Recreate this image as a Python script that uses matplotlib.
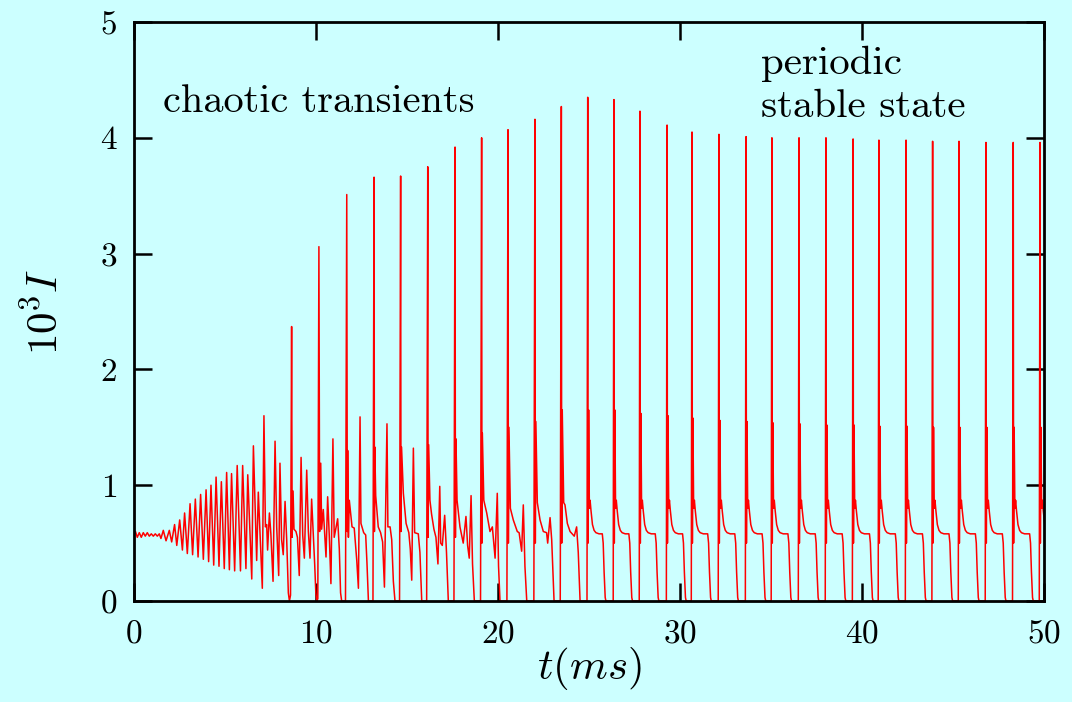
import matplotlib
matplotlib.use("Agg")
import matplotlib.pyplot as plt
import numpy as np

plt.rcParams['font.family'] = 'serif'
plt.rcParams['font.serif'] = ['cmr10']
plt.rcParams['mathtext.fontset'] = 'cm'
plt.rcParams['axes.formatter.use_mathtext'] = True

# chaotic transient part (time in ms, 10^3 I)
t_transient = [
    0.00, 0.08, 0.18, 0.29, 0.40, 0.51, 0.62, 0.73, 0.84, 0.95, 1.06, 1.17, 1.28, 1.39,
    1.48, 1.61, 1.76, 1.94, 2.07, 2.23, 2.35, 2.51, 2.66, 2.78, 2.93, 3.08, 3.22, 3.37,
    3.52, 3.66, 3.81, 3.96, 4.10, 4.23, 4.38, 4.51, 4.67, 4.80, 4.96, 5.09, 5.24, 5.36,
    5.53, 5.67, 5.85, 5.97, 6.15, 6.25, 6.47, 6.56, 6.74, 6.83, 7.05, 7.14, 7.22, 7.29,
    7.34, 7.44, 7.52, 7.64, 7.75, 7.84, 7.95, 8.02, 8.11, 8.20, 8.30, 8.39, 8.48, 8.54,
    8.60, 8.66, 8.69, 8.74, 8.79, 8.90, 8.98, 9.08, 9.18, 9.27, 9.36, 9.49, 9.58, 9.67,
    9.76, 9.93, 9.99, 10.04, 10.10, 10.16, 10.20, 10.26, 10.31, 10.40, 10.55, 10.64, 10.73,
    10.82, 10.93, 11.00, 11.19, 11.28, 11.35, 11.41, 11.62, 11.69, 11.72, 11.74, 11.78,
    11.83, 11.98, 12.10, 12.24, 12.33, 12.42, 12.47, 12.62, 12.73, 12.80, 12.88, 13.13,
    13.19, 13.21, 13.23, 13.28, 13.42, 13.55, 13.66, 13.76, 13.90, 13.95, 14.07, 14.16,
    14.25, 14.34, 14.59, 14.65, 14.67, 14.70, 14.80, 14.95, 15.10, 15.18, 15.26, 15.35,
    15.42, 15.62, 15.71, 15.81, 16.08, 16.14, 16.16, 16.19, 16.26, 16.35, 16.48, 16.59,
    16.70, 16.80, 16.85, 16.94, 17.07, 17.17, 17.27, 17.58, 17.64, 17.66, 17.69, 17.75,
    17.91, 18.09, 18.24, 18.33, 18.42, 18.52, 18.60, 18.70, 19.04, 19.10, 19.12, 19.14,
    19.22, 19.38, 19.56, 19.69, 19.84, 19.96, 20.03, 20.11, 20.49, 20.55, 20.57, 20.60,
    20.68, 20.84, 21.06, 21.16, 21.30, 21.39, 21.48, 21.58, 21.97, 22.03, 22.05, 22.08,
    22.16, 22.31, 22.49, 22.67, 22.73, 22.86, 22.95, 23.08, 23.42, 23.48, 23.50, 23.53,
    23.61, 23.68, 23.81, 23.96, 24.19, 24.32, 24.41, 24.51, 24.87,
]
i_transient = [
    0.57, 0.60, 0.55, 0.59, 0.55, 0.59, 0.56, 0.59, 0.56, 0.58, 0.56, 0.58, 0.56, 0.58,
    0.54, 0.61, 0.52, 0.61, 0.51, 0.66, 0.48, 0.70, 0.44, 0.76, 0.41, 0.84, 0.40, 0.88,
    0.38, 0.92, 0.36, 0.96, 0.34, 1.00, 0.31, 1.07, 0.30, 1.03, 0.28, 1.11, 0.27, 1.10,
    0.26, 1.17, 0.26, 1.17, 0.28, 1.09, 0.19, 1.34, 0.35, 0.94, 0.11, 1.60, 0.64, 0.66,
    0.44, 0.76, 0.58, 0.17, 1.38, 0.64, 0.22, 1.19, 0.53, 0.40, 0.86, 0.53, 0.07, 0.00,
    0.05, 2.37, 0.55, 0.95, 0.62, 0.60, 0.55, 0.22, 1.24, 0.57, 0.37, 1.13, 0.60, 0.37,
    0.88, 0.31, 0.07, 0.00, 0.02, 3.06, 0.60, 1.19, 0.62, 0.79, 0.38, 0.90, 0.56,
    0.15, 1.40, 0.55, 0.71, 0.45, 0.07, 0.00, 0.00, 3.51, 0.60, 1.30, 0.55,
    0.87, 0.64, 0.63, 0.35, 0.11, 1.59, 0.67, 0.59, 0.57, 0.33, 0.00, 0.00,
    3.66, 0.60, 1.33, 0.91, 0.64, 0.59, 0.51, 0.12, 1.53, 0.64, 0.64, 0.53,
    0.17, 0.00, 0.00, 3.67, 0.60, 1.33, 0.93, 0.67, 0.59, 0.45, 0.18, 1.32,
    0.59, 0.58, 0.42, 0.00, 0.00, 3.75, 0.55, 1.35, 0.87, 0.75, 0.62, 0.55,
    0.32, 0.99, 0.50, 0.48, 0.74, 0.42, 0.00, 0.00, 3.92, 0.55, 1.40, 0.87,
    0.64, 0.50, 0.73, 0.48, 0.37, 0.91, 0.32, 0.00, 0.00, 4.00, 0.50, 1.45,
    0.87, 0.76, 0.60, 0.64, 0.37, 0.93, 0.30, 0.00, 0.00, 4.07, 0.50, 1.50,
    0.80, 0.70, 0.60, 0.59, 0.43, 0.83, 0.30, 0.00, 0.00, 4.16, 0.50, 1.55,
    0.85, 0.70, 0.60, 0.59, 0.50, 0.72, 0.53, 0.00, 0.00, 4.27, 0.50, 1.65,
    0.85, 0.83, 0.67, 0.60, 0.56, 0.64, 0.42, 0.00, 0.00,
]

# periodic part: spike times, peak heights, secondary peaks, pulse lengths
spike_t = [24.93, 26.37, 27.80, 29.29, 30.66, 32.14, 33.63, 35.05, 36.54,
           38.02, 39.51, 40.93, 42.42, 43.88, 45.33, 46.81, 48.31, 49.78]
spike_peak = [4.35, 4.33, 4.23, 4.11, 4.05, 4.03, 4.01, 4.00, 4.00,
              4.00, 3.99, 3.98, 3.98, 3.97, 3.97, 3.96, 3.96, 3.96]
spike_second = [1.65, 1.65, 1.62, 1.60, 1.58, 1.56, 1.55, 1.54, 1.53,
                1.52, 1.52, 1.51, 1.51, 1.50, 1.50, 1.50, 1.50, 1.50]
pulse_len = [1.00, 1.02, 1.04, 1.05, 1.06, 1.07, 1.08, 1.08, 1.09,
             1.09, 1.10, 1.10, 1.10, 1.10, 1.10, 1.10, 1.10, 1.10]

# shape of one pulse after the secondary peak (ms after spike)
decay_dt = [0.09, 0.13, 0.18, 0.26, 0.35, 0.45, 0.62]
decay_val = [0.80, 0.87, 0.78, 0.66, 0.61, 0.59, 0.58]
# shape of the drop to zero (ms before pulse end)
fall_dt = [-0.20, -0.15, -0.10, -0.04, 0.0]
fall_val = [0.58, 0.50, 0.25, 0.03, 0.0]

t_all = list(t_transient)
i_all = list(i_transient)
for t0, pk, sec, ln in zip(spike_t, spike_peak, spike_second, pulse_len):
    t_all += [t0 - 0.04, t0, t0 + 0.02, t0 + 0.05]
    i_all += [0.0, pk, 0.50, sec]
    t_all += [t0 + d for d in decay_dt]
    i_all += decay_val
    t_all += [t0 + ln + d for d in fall_dt]
    i_all += fall_val

bg = '#ccffff'
fig = plt.figure(figsize=(10.72, 7.02), dpi=100, facecolor=bg)
ax = fig.add_axes([134 / 1072, 101 / 702, 910 / 1072, 579 / 702])
ax.set_facecolor(bg)

ax.plot(t_all, i_all, color='#ff0000', lw=1.1)

ax.set_xlim(0, 50)
ax.set_ylim(0, 5)
ax.set_xticks(np.arange(0, 51, 10))
ax.set_yticks(np.arange(0, 6, 1))
ax.tick_params(direction='in', length=13, width=1.8, top=True, right=True,
               labelsize=24, colors='black')
ax.tick_params(axis='x', pad=13)
ax.tick_params(axis='y', pad=12)
for s in ax.spines.values():
    s.set_linewidth(2.0)

ax.set_xlabel(r'$t(ms)$', fontsize=31, labelpad=-2)
ax.set_ylabel(r'$10^3I$', fontsize=31, labelpad=24)

ax.text(1.59, 4.22, 'chaotic transients', fontsize=29)
ax.text(34.45, 4.55, 'periodic', fontsize=29.5)
ax.text(34.45, 4.18, 'stable state', fontsize=29.5)

fig.savefig('out.png', dpi=100, facecolor=bg)
